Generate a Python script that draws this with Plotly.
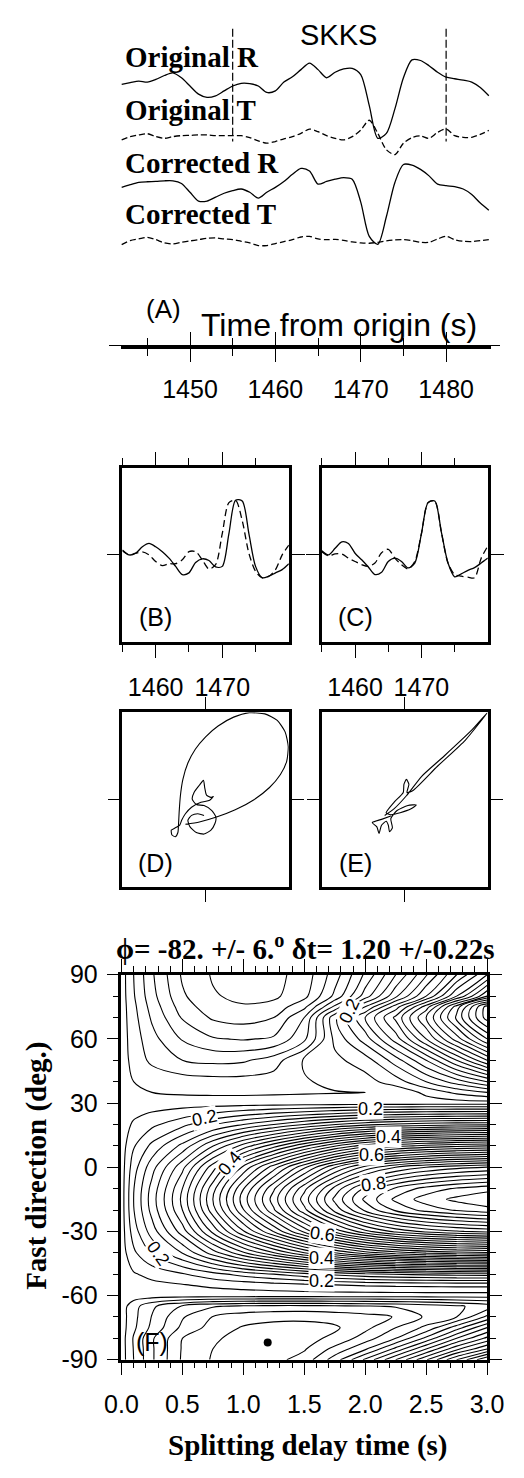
import plotly.graph_objects as go

W, H = 524, 1478
SANS = "Liberation Sans"
SERIF = "Liberation Serif"

# ---------------- Panel A: seismograms (amplitudes, px units) ----------------
time_a = list(range(1442, 1486))
orig_r = [0, 1.7, 3.3, 2.3, 5, 9, 11.7, 6.7, -1.7, -10, -13.3, -11.7, -6.7, -1.7, 1, 0.7,
          -1.7, -8.3, -6.7, 2.3, 7.7, 15, 21.7, 15, 6.7, 12.3, 15.7, 16.3, 10, -21.7,
          -55, -50, -25, 6.7, 25, 24.3, 19, 12.3, 7.3, 5.7, 4.3, 2.3, -3.3, -11.7]
orig_t = [-3.3, 0, 1.7, 3, 0, -1.7, 0, 1, 1.3, 1.7, 1.7, 1, 1, 1, 1, -1, -4.3, -6.7,
          -5, -2.3, 0, 3.3, 7.7, 5, 1, -1.7, -3.3, 0, 6.7, 16.7, 3.3, -13.3, -18.3,
          -6.7, -1, 0.7, -1.7, 4.3, 7.7, 1, -0.7, -0.7, 2.3, 6.3]
corr_r = [0, 2.7, 5, 5.7, 6, 6.7, 6.7, 4, -5, -14, -14, -10, -6, -3.3, -1.7, -5, -11,
          -5, 0, 6, 13.3, 19.3, 16.7, 3.3, 6, 8.3, 10, 8.3, -15, -50, -58, -30, 5,
          23.3, 22.7, 18.3, 11.7, 3.3, 1.7, 0.7, -1.7, -7.3, -16, -23.3]
corr_t = [-4, 0, 1.7, 3.3, 1, -2.3, -3.3, -1.7, -0.3, 1, 2.3, 2.7, 1.7, 1, -0.7, -2.3,
          -5, -5, -3, -1, 1, 3.7, 4.3, 1.7, 1, 1.3, 0.3, -1.3, -2.3, -2.7, -1.7, -0.3,
          0.7, 1, 0, -1.7, -1.7, 1.7, 4.3, 1, -0.7, -1, 0, 1]
trace_names = ["Original R", "Original T", "Corrected R", "Corrected T"]
phase_name = "SKKS"
window = [1455, 1480]
axis_ticks_a = [1450, 1460, 1470, 1480]
axis_minor_a = [1445, 1455, 1465, 1475]

# ---------------- Panels B / C: windowed fast & slow components ----------------
time_win = list(range(1455, 1481))
b_solid = [4.3, 0, 1.7, 8.3, 11.7, 8.3, 3.3, -3.3, -11.7, -20, -18.3, -7.7, -4, -5.7,
           -12.3, -11.7, 21.7, 55.7, 55, 21.7, -11.7, -23.3, -21.7, -18.3, -15, -9]
b_dash = [5, 0, 1.7, 3, 0, -6.7, -11, -9, -9, -5, 3.3, 3.3, -5, -14.3, -10, 21.7, 53.3,
          55.7, 35, 1.7, -16.7, -23.3, -21.7, -15, 0, 10]
c_solid = [4.3, 0, 6.7, 13.3, 11.7, 1.7, -5, -12.3, -20, -17.7, -6.7, -3.3, -6.7, -13.3,
           -8.3, 21.7, 53.3, 55, 23.3, -8.3, -22.3, -19.3, -15.7, -13, -8.3, -3.3]
c_dash = [3.3, -1, 1, 1, -3.3, -6.7, -10, -11.7, -8.3, 2.3, 5.7, -3.3, -10, -14.3, -6.7,
          21.7, 53.3, 55, 23.3, -8.3, -20, -21.7, -22.7, -23.3, -3.3, 9]
win_ticks = [1460, 1470]
win_minor = [1455, 1465, 1475]

# ---------------- Panels D / E: particle motion (normalised) ----------------
d_x = [-0.019, -0.094, -0.169, -0.213, -0.187, -0.112, -0.019, 0.064, 0.112, 0.124, 0.075,
       -0.019, -0.112, -0.161, -0.139, -0.075, -0.026, -0.011, 0.011, 0.064, 0.094, 0.049,
       -0.056, -0.169, -0.243, -0.288, -0.311, -0.363, -0.412, -0.404, -0.363, -0.333,
       -0.326, -0.318, -0.303, -0.273, -0.213, -0.124, 0.0, 0.150, 0.337, 0.524, 0.712,
       0.861, 0.955, 0.993, 0.974, 0.899, 0.768, 0.581, 0.356, 0.131, -0.075, -0.243]
d_y = [-0.180, -0.161, -0.180, -0.236, -0.311, -0.375, -0.393, -0.348, -0.273, -0.199,
       -0.124, -0.067, -0.056, 0.007, 0.082, 0.165, 0.221, 0.139, 0.052, 0.026, 0.037,
       -0.007, -0.030, -0.086, -0.161, -0.236, -0.292, -0.322, -0.348, -0.404, -0.423,
       -0.375, -0.292, -0.142, 0.045, 0.232, 0.419, 0.577, 0.719, 0.843, 0.944, 0.993,
       0.981, 0.906, 0.775, 0.607, 0.438, 0.288, 0.139, 0.0, -0.116, -0.199, -0.255, -0.281]
e_x = [-0.169, -0.281, -0.393, -0.337, -0.311, -0.281, -0.225, -0.199, -0.184, -0.150,
       -0.169, -0.094, 0.037, 0.139, 0.075, -0.056, -0.169, -0.225, -0.131, -0.019,
       -0.011, 0.019, 0.049, 0.026, 0.094, 0.393, 0.730, 0.993, 0.805, 0.468, 0.206,
       0.019, -0.131, -0.243]
e_y = [-0.187, -0.225, -0.262, -0.311, -0.386, -0.292, -0.247, -0.292, -0.367, -0.322,
       -0.217, -0.124, -0.067, -0.060, -0.105, -0.150, -0.172, -0.150, -0.030, 0.082,
       0.176, 0.232, 0.176, 0.082, 0.101, 0.382, 0.682, 0.993, 0.794, 0.494, 0.270,
       0.045, -0.105, -0.180]

# ---------------- Panel F: energy map ----------------
dt_grid = [0, 0.1, 0.25, 0.5, 0.75, 1.0, 1.25, 1.5, 1.75, 2.0, 2.25, 2.5, 2.75, 3.0]
phi_grid = [-90, -85, -80, -75, -70, -65, -60, -55, -50, -40, -30, -20, -15, -10, 0,
            10, 20, 25, 30, 35, 40, 50, 60, 70, 75, 80, 90]
energy = [
    [0.15, 0.12, 0.083, 0.037, 0.018, 0.013, 0.014, 0.028, 0.07, 0.124, 0.18, 0.238, 0.30, 0.36],
    [0.15, 0.119, 0.083, 0.038, 0.02, 0.012, 0.011, 0.018, 0.046, 0.077, 0.126, 0.18, 0.235, 0.28],
    [0.15, 0.118, 0.083, 0.04, 0.023, 0.013, 0.011, 0.014, 0.024, 0.05, 0.08, 0.125, 0.18, 0.225],
    [0.15, 0.124, 0.095, 0.055, 0.032, 0.018, 0.013, 0.013, 0.017, 0.034, 0.06, 0.085, 0.13, 0.18],
    [0.15, 0.126, 0.099, 0.062, 0.039, 0.03, 0.026, 0.025, 0.028, 0.033, 0.041, 0.063, 0.08, 0.125],
    [0.15, 0.128, 0.104, 0.078, 0.062, 0.056, 0.054, 0.054, 0.056, 0.058, 0.062, 0.068, 0.077, 0.088],
    [0.15, 0.15, 0.15, 0.15, 0.15, 0.15, 0.15, 0.15, 0.15, 0.15, 0.15, 0.15, 0.15, 0.15],
    [0.15, 0.153, 0.155, 0.159, 0.164, 0.168, 0.172, 0.176, 0.18, 0.183, 0.185, 0.186, 0.187, 0.187],
    [0.15, 0.158, 0.166, 0.178, 0.193, 0.208, 0.22, 0.233, 0.245, 0.255, 0.261, 0.265, 0.268, 0.269],
    [0.15, 0.176, 0.202, 0.241, 0.29, 0.337, 0.379, 0.42, 0.459, 0.491, 0.511, 0.524, 0.532, 0.537],
    [0.15, 0.19, 0.23, 0.29, 0.366, 0.438, 0.502, 0.566, 0.626, 0.674, 0.706, 0.726, 0.738, 0.746],
    [0.15, 0.199, 0.247, 0.32, 0.412, 0.499, 0.577, 0.654, 0.727, 0.785, 0.824, 0.848, 0.863, 0.873],
    [0.15, 0.2, 0.25, 0.325, 0.42, 0.51, 0.59, 0.67, 0.745, 0.805, 0.845, 0.87, 0.885, 0.895],
    [0.15, 0.199, 0.247, 0.32, 0.412, 0.499, 0.577, 0.654, 0.727, 0.785, 0.824, 0.848, 0.863, 0.873],
    [0.15, 0.191, 0.232, 0.294, 0.371, 0.445, 0.511, 0.576, 0.638, 0.687, 0.72, 0.74, 0.753, 0.761],
    [0.15, 0.178, 0.205, 0.246, 0.299, 0.348, 0.392, 0.436, 0.477, 0.51, 0.532, 0.546, 0.554, 0.56],
    [0.15, 0.163, 0.175, 0.194, 0.218, 0.24, 0.26, 0.28, 0.299, 0.314, 0.324, 0.33, 0.334, 0.336],
    [0.15, 0.156, 0.162, 0.171, 0.182, 0.193, 0.203, 0.212, 0.221, 0.229, 0.233, 0.236, 0.238, 0.239],
    [0.15, 0.15, 0.15, 0.15, 0.15, 0.15, 0.15, 0.15, 0.15, 0.15, 0.15, 0.15, 0.15, 0.15],
    [0.15, 0.145, 0.14, 0.137, 0.136, 0.136, 0.137, 0.138, 0.139, 0.14, 0.145, 0.165, 0.185, 0.2],
    [0.15, 0.14, 0.135, 0.13, 0.128, 0.128, 0.13, 0.138, 0.145, 0.152, 0.17, 0.2, 0.23, 0.26],
    [0.15, 0.133, 0.115, 0.1, 0.095, 0.097, 0.11, 0.143, 0.155, 0.17, 0.21, 0.26, 0.32, 0.38],
    [0.15, 0.13, 0.107, 0.078, 0.062, 0.058, 0.063, 0.095, 0.165, 0.21, 0.27, 0.34, 0.41, 0.48],
    [0.15, 0.127, 0.097, 0.058, 0.037, 0.032, 0.04, 0.08, 0.175, 0.24, 0.305, 0.38, 0.465, 0.55],
    [0.15, 0.125, 0.092, 0.05, 0.028, 0.022, 0.027, 0.055, 0.125, 0.2, 0.27, 0.35, 0.45, 0.55],
    [0.15, 0.122, 0.087, 0.043, 0.022, 0.015, 0.016, 0.034, 0.085, 0.15, 0.215, 0.28, 0.36, 0.44],
    [0.15, 0.12, 0.083, 0.037, 0.018, 0.013, 0.014, 0.028, 0.07, 0.124, 0.18, 0.238, 0.30, 0.36],
]
best_phi, phi_err = -82, 6
best_dt, dt_err = 1.20, 0.22
dt_ticks = [0, 0.5, 1.0, 1.5, 2.0, 2.5, 3.0]
phi_ticks = [-90, -60, -30, 0, 30, 60, 90]
contour_label_text = ["0.2", "0.2", "0.4", "0.6", "0.8", "0.4", "0.6", "0.4", "0.2", "0.2", "0.2"]

# ---------------- layout helpers ----------------
def fx(p):
    return p / W

def fy(p):
    return 1 - p / H

fig = go.Figure()
BLK = "black"

# Panel A traces (vertical axis in pixel-like units)
baselines = [71.7, 125, 176.7, 231]
series = [orig_r, orig_t, corr_r, corr_t]
dashes = ["solid", "6px,3px", "solid", "6px,3px"]
for s, b, d in zip(series, baselines, dashes):
    fig.add_trace(go.Scatter(x=time_a, y=[b - v for v in s], mode="lines",
                             line=dict(color=BLK, width=1.3, dash=d, shape="spline", smoothing=0.8),
                             xaxis="x", yaxis="y", hoverinfo="skip"))
for t in window:
    fig.add_trace(go.Scatter(x=[t, t], y=[15, 130], mode="lines",
                             line=dict(color=BLK, width=1.2, dash="8px,3px"),
                             xaxis="x", yaxis="y", hoverinfo="skip"))

# invisible anchors for axis-only subplots
for k in (2, 3, 4):
    fig.add_trace(go.Scatter(x=[1450], y=[0], mode="markers", marker=dict(opacity=0),
                             xaxis=f"x{k}", yaxis=f"y{k}", hoverinfo="skip"))

# Panels B, C
for k, sol, das in ((5, b_solid, b_dash), (6, c_solid, c_dash)):
    fig.add_trace(go.Scatter(x=time_win, y=sol, mode="lines",
                             line=dict(color=BLK, width=1.3, shape="spline", smoothing=0.8),
                             xaxis=f"x{k}", yaxis=f"y{k}", hoverinfo="skip"))
    fig.add_trace(go.Scatter(x=time_win, y=das, mode="lines",
                             line=dict(color=BLK, width=1.3, dash="7px,4px", shape="spline", smoothing=0.8),
                             xaxis=f"x{k}", yaxis=f"y{k}", hoverinfo="skip"))

# Panels D, E
for k, px_, py_ in ((7, d_x, d_y), (8, e_x, e_y)):
    fig.add_trace(go.Scatter(x=px_, y=py_, mode="lines",
                             line=dict(color=BLK, width=1.1, shape="spline", smoothing=0.6),
                             xaxis=f"x{k}", yaxis=f"y{k}", hoverinfo="skip"))

# Panel F contour
fig.add_trace(go.Contour(x=dt_grid, y=phi_grid, z=energy, xaxis="x9", yaxis="y9",
                         contours=dict(start=0.02, end=0.88, size=0.02, coloring="lines"),
                         colorscale=[[0, BLK], [1, BLK]], showscale=False,
                         line=dict(width=1.1, smoothing=1.0), hoverinfo="skip"))
fig.add_trace(go.Scatter(x=[best_dt], y=[best_phi], mode="markers",
                         marker=dict(size=8, color=BLK), xaxis="x9", yaxis="y9", hoverinfo="skip"))

# ---------------- axes ----------------
hidden = dict(visible=False, showgrid=False, zeroline=False)
tickfont = dict(family=SANS, size=25, color=BLK)
axes = {}
axes["xaxis"] = dict(domain=[0, 1], range=[1429.74, 1487.13], anchor="y", **hidden)
axes["yaxis"] = dict(domain=[fy(400), 1], range=[400, 0], anchor="x", **hidden)

ya = fy(337.3)
axes["xaxis2"] = dict(domain=[fx(111.7), fx(506.7)], range=[1441.97, 1485.23], anchor="y2",
                      showline=True, linewidth=3.5, linecolor=BLK, ticks="outside", ticklen=13,
                      tickwidth=1.2, tickcolor=BLK, tickmode="array", tickvals=axis_ticks_a,
                      ticktext=[str(v) for v in axis_ticks_a], tickfont=tickfont,
                      minor=dict(tickmode="array", tickvals=axis_minor_a, ticks="outside",
                                 ticklen=7, tickwidth=1.2, tickcolor=BLK),
                      showgrid=False, zeroline=False, ticklabelstandoff=6)
axes["xaxis3"] = dict(domain=[fx(111.7), fx(506.7)], range=[1441.97, 1485.23], anchor="y3",
                      showline=False, ticks="inside", ticklen=13, tickwidth=1.2, tickcolor=BLK,
                      tickmode="array", tickvals=axis_ticks_a, showticklabels=False,
                      minor=dict(tickmode="array", tickvals=axis_minor_a, ticks="inside",
                                 ticklen=7, tickwidth=1.2, tickcolor=BLK),
                      showgrid=False, zeroline=False)
axes["xaxis4"] = dict(domain=[fx(98), fx(517)], range=[0, 1], anchor="y4", showline=True,
                      linewidth=1, linecolor=BLK, ticks="", showticklabels=False,
                      showgrid=False, zeroline=False)
for k in (2, 3, 4):
    axes[f"yaxis{k}"] = dict(domain=[ya, ya + 0.0005], anchor=f"x{k}", **hidden)

box_common = dict(showline=True, linewidth=2.5, linecolor=BLK, mirror="allticks",
                  ticks="outside", tickcolor=BLK, tickwidth=1.2, showgrid=False, zeroline=False)
for k, x0, x1 in ((5, 112.7, 290.7), (6, 326, 503.5)):
    axes[f"xaxis{k}"] = dict(domain=[fx(x0), fx(x1)], range=[1455, 1480], anchor=f"y{k}",
                             tickmode="array", tickvals=win_ticks, ticklen=13,
                             ticktext=[str(v) for v in win_ticks], tickfont=tickfont,
                             minor=dict(tickmode="array", tickvals=win_minor, ticks="outside",
                                        ticklen=7, tickwidth=1.2, tickcolor=BLK),
                             ticklabelstandoff=8, **box_common)
    axes[f"yaxis{k}"] = dict(domain=[fy(640), fy(462.7)], range=[-88.65, 88.65], anchor=f"x{k}",
                             tickmode="array", tickvals=[0], ticklen=13, showticklabels=False,
                             **box_common)
for k, x0, x1 in ((7, 112.7, 290.7), (8, 326, 503.5)):
    axes[f"xaxis{k}"] = dict(domain=[fx(x0), fx(x1)], range=[-1, 1], anchor=f"y{k}",
                             tickmode="array", tickvals=[0], ticklen=12, showticklabels=False,
                             **box_common)
    axes[f"yaxis{k}"] = dict(domain=[fy(890), fy(711.7)], range=[-1, 1], anchor=f"x{k}",
                             tickmode="array", tickvals=[0], ticklen=12, showticklabels=False,
                             **box_common)

axes["xaxis9"] = dict(domain=[fx(111.7), fx(502.7)], range=[0, 3], anchor="y9",
                      tickmode="array", tickvals=dt_ticks, ticktext=[f"{v:.1f}" for v in dt_ticks],
                      ticklen=13, tickfont=tickfont, ticklabelstandoff=8,
                      minor=dict(tick0=0, dtick=0.1, ticks="outside", ticklen=6, tickwidth=1.2,
                                 tickcolor=BLK),
                      **box_common)
axes["yaxis9"] = dict(domain=[fy(1371.7), fy(979.3)], range=[-90, 90], anchor="x9",
                      tickmode="array", tickvals=phi_ticks, ticktext=[str(v) for v in phi_ticks],
                      ticklen=12, tickfont=tickfont, ticklabelstandoff=4,
                      minor=dict(tick0=0, dtick=10, ticks="outside", ticklen=6, tickwidth=1.2,
                                 tickcolor=BLK),
                      **box_common)

# ---------------- annotations ----------------
ann = []

def text(x, y, s, size, family=SANS, xanchor="center", angle=0, bold=False, ref="paper", bg=None):
    d = dict(x=x, y=y, text=(f"<b>{s}</b>" if bold else s), showarrow=False,
             font=dict(family=family, size=size, color=BLK), xanchor=xanchor, yanchor="middle",
             textangle=angle)
    if ref == "paper":
        d.update(xref="paper", yref="paper", x=fx(x), y=fy(y))
    else:
        d.update(xref="x9", yref="y9")
    if bg:
        d.update(bgcolor=bg, borderpad=0)
    ann.append(d)

for name, yc in zip(trace_names, [44, 97.5, 151.5, 204]):
    text(113, yc, name, 29, family=SERIF, xanchor="left", bold=True)
text(344, 21, phase_name, 29)
text(157, 301, "(A)", 26)
text(344.5, 316.5, "Time from origin (s)", 32)
for lab, xc, yc in (("(B)", 148.5, 614.5), ("(C)", 362.5, 614.5),
                    ("(D)", 148.5, 865), ("(E)", 362.5, 865), ("(F)", 144, 1353.5)):
    text(xc, yc, lab, 25)

title = f"ϕ= {best_phi}. +/- {phi_err}.<sup>o</sup> δt= {best_dt:.2f} +/-{dt_err:.2f}s"
text(307.5, 951, title, 29, family=SERIF, bold=True)
text(311.5, 1459, "Splitting delay time (s)", 29, family=SERIF, bold=True)
text(21.5, 1174, "Fast direction (deg.)", 29, family=SERIF, bold=True, angle=-90)

label_pos = [(0.68, 23, -12), (2.04, 27, 0), (2.19, 14.2, 0), (2.05, 5.5, 0), (2.07, -8, -8),
             (0.89, 2, -50), (1.65, -31, 8), (1.64, -42.5, 0), (1.64, -53, 0), (0.3, -40, 55),
             (1.87, 73, -65)]
for s, (xv, yv, ang) in zip(contour_label_text, label_pos):
    text(xv, yv, s, 18, angle=ang, ref="data", bg="white")

fig.update_layout(width=W, height=H, margin=dict(l=0, r=0, t=0, b=0),
                  paper_bgcolor="white", plot_bgcolor="rgba(0,0,0,0)", showlegend=False,
                  annotations=ann, **axes)

fig.write_html("out.html")
